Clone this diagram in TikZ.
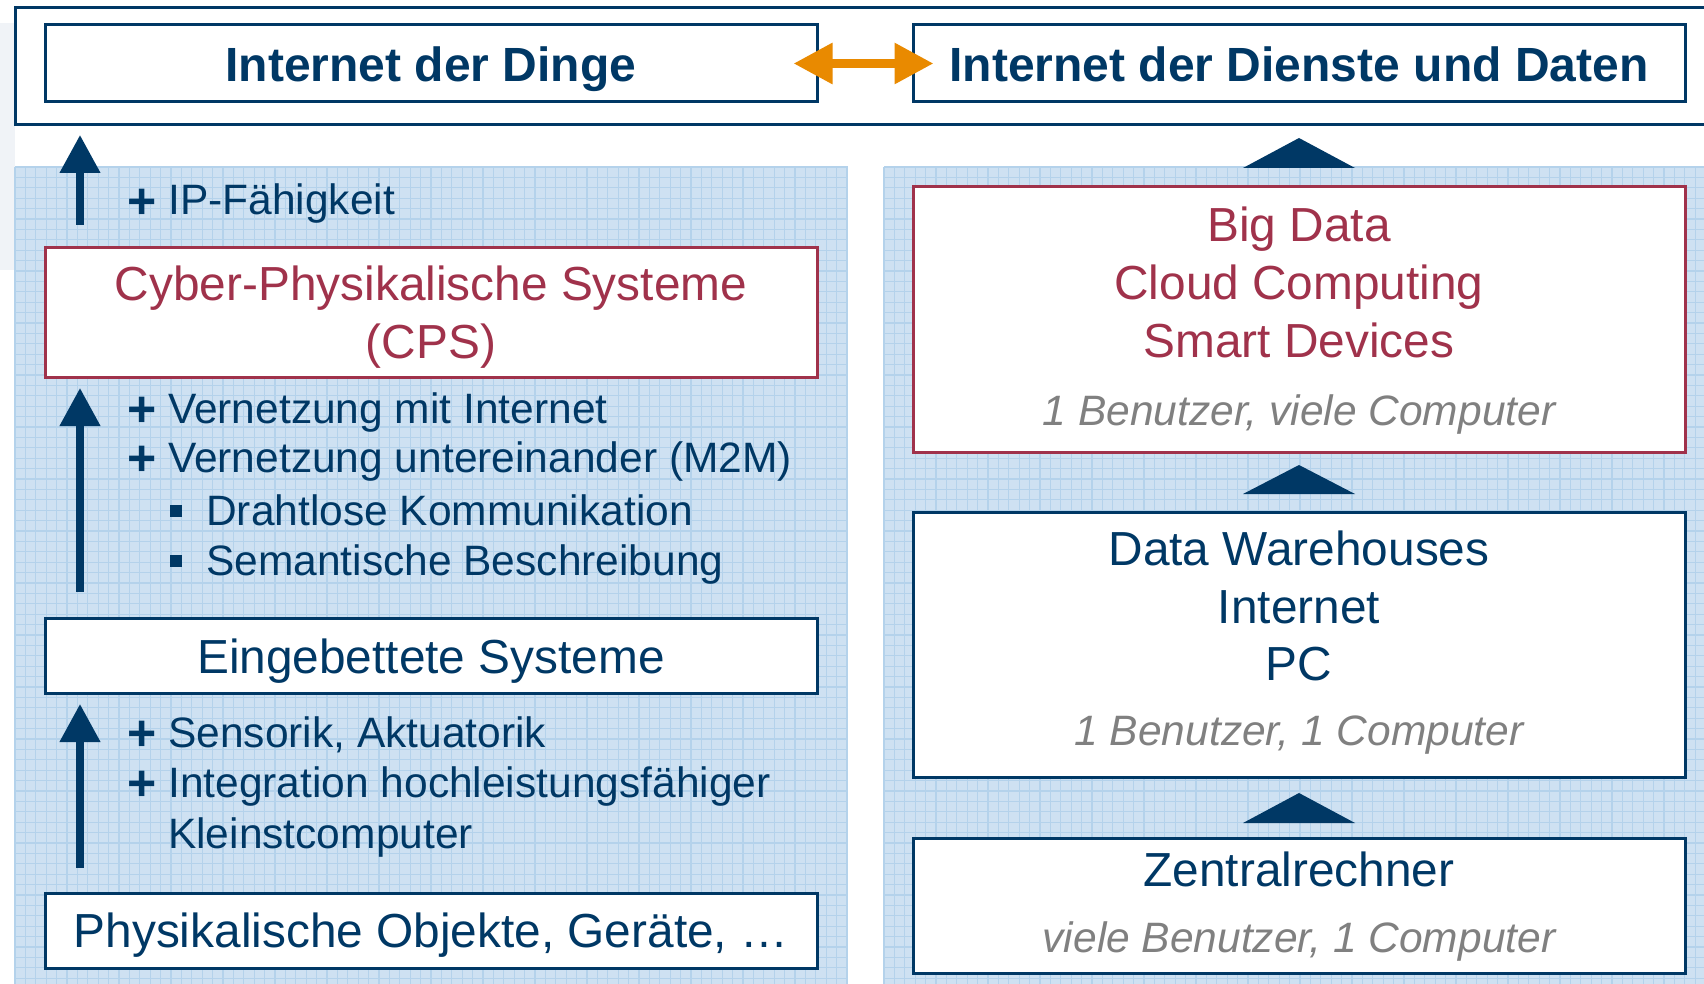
\documentclass[tikz,border=0pt]{standalone}
\usepackage{fontspec}
\setmainfont{Liberation Sans}
\usetikzlibrary{arrows.meta,calc}
\definecolor{dkblue}{RGB}{0,56,101}
\definecolor{cpsred}{RGB}{160,50,75}
\definecolor{txtgray}{RGB}{128,128,128}
\definecolor{orng}{RGB}{233,138,0}
\definecolor{patbg}{RGB}{206,225,242}
\definecolor{patln}{RGB}{180,210,235}
\definecolor{stripgray}{RGB}{240,243,247}
\newcommand\fsBig{\fontsize{47.8}{57}\selectfont}
\newcommand\fsMid{\fontsize{42.5}{50}\selectfont}
\newcommand\fsTitle{\fontsize{48}{57}\selectfont\bfseries}
\newcommand\fsPlus{\fontsize{50}{54}\selectfont\bfseries}
\begin{document}
\begin{tikzpicture}[x=1pt,y=-1pt,
  box/.style={draw=dkblue, fill=white, line width=3pt, inner sep=0pt, minimum width=772pt},
  redbox/.style={box, draw=cpsred},
  title/.style={font=\fsTitle, text=dkblue, inner sep=0pt, anchor=base},
  big/.style={font=\fsBig, text=dkblue, inner sep=0pt, anchor=base},
  bigred/.style={big, text=cpsred},
  subline/.style={font=\fsMid\itshape, text=txtgray, inner sep=0pt, anchor=base},
  item/.style={font=\fsMid, text=dkblue, inner sep=0pt, anchor=base west},
  plusmark/.style={font=\fsPlus, text=dkblue, inner sep=0pt},
  sqmark/.style={fill=dkblue, inner sep=0pt, minimum size=12pt},
  uparrow/.style={draw=dkblue, line width=7.5pt, -{Triangle[width=39pt,length=38pt]}},
  dblarrow/.style={draw=orng, line width=9pt, {Triangle[width=39pt,length=39pt]}-{Triangle[width=39pt,length=39pt]}},
  tri/.style={fill=dkblue}
]
\useasboundingbox (0,0) rectangle (1704,984);
\clip (0,0) rectangle (1704,984);
% light strip at the left
\fill[stripgray] (0,23) rectangle (15,270);
% patterned panels
\fill[patbg] (15,167) rectangle (848,984);
\fill[patbg] (884,167) rectangle (1704,984);
\foreach \i in {0,...,80} {\draw[patln, line width=1.1pt] ({15+10.4*\i},167) -- ({15+10.4*\i},984);}
\foreach \i in {0,...,78} {\draw[patln, line width=1.1pt] ({884+10.4*\i},167) -- ({884+10.4*\i},984);}
\foreach \j in {0,...,78} {\draw[patln, line width=1.1pt] (15,{167+10.4*\j}) -- (848,{167+10.4*\j});
  \draw[patln, line width=1.1pt] (884,{167+10.4*\j}) -- (1704,{167+10.4*\j});}
% top frame
\draw[dkblue, line width=3pt, fill=white] (15,8) rectangle (1712,125);
% boxes
\node[box, minimum height=77pt] (boxL) at (431,63.5) {};
\node[box, minimum height=77pt] (boxR) at (1299,63.5) {};
\node[redbox, minimum height=129pt] (cps) at (431,312.5) {};
\node[box, minimum height=75pt] (emb) at (431,655.5) {};
\node[box, minimum height=75pt] (phys) at (431,930.5) {};
\node[redbox, minimum height=265pt] (bd) at (1299,319.5) {};
\node[box, minimum height=265pt] (dw) at (1299,644.5) {};
\node[box, minimum height=135pt] (zr) at (1299,905.5) {};
% orange double arrow
\draw[dblarrow] ([xshift=-25pt]boxL.east) -- ([xshift=22pt]boxR.west);
% titles
\node[title] (tL) at (431,82) {Internet der Dinge};
\node[title] (tR) at (1299,82) {Internet der Dienste und Daten};
% left up arrows
\coordinate (a1s) at (80,225); \coordinate (a1e) at (80,135);
\coordinate (a2s) at (80,592); \coordinate (a2e) at (80,388);
\coordinate (a3s) at (80,868); \coordinate (a3e) at (80,704);
\draw[uparrow] (a1s) -- (a1e);
\draw[uparrow] (a2s) -- (a2e);
\draw[uparrow] (a3s) -- (a3e);
% right triangles
\fill[tri] (1243,168) -- (1299,138) -- (1355,168) -- cycle;
\fill[tri] (1243,494) -- (1299,465) -- (1355,494) -- cycle;
\fill[tri] (1243,823) -- (1299,793) -- (1355,823) -- cycle;
% left texts
\node[plusmark] (p1) at (142,204) {+};
\node[item] (i1) at (168,215) {IP-Fähigkeit};
\node[bigred] (c1) at (431,300) {Cyber-Physikalische Systeme};
\node[bigred] (c2) at (431,358) {(CPS)};
\node[plusmark] (p2) at (142,412) {+};
\node[item] (i2) at (168,423) {Vernetzung mit Internet};
\node[plusmark] (p3) at (142,461) {+};
\node[item] (i3) at (168,472) {Vernetzung untereinander (M2M)};
\node[sqmark] (s1) at (176,511) {};
\node[item] (i4) at (206,525) {Drahtlose Kommunikation};
\node[sqmark] (s2) at (176,561) {};
\node[item] (i5) at (206,575) {Semantische Beschreibung};
\node[big] (e1) at (431,673) {Eingebettete Systeme};
\node[plusmark] (p4) at (142,736) {+};
\node[item] (i6) at (168,747) {Sensorik, Aktuatorik};
\node[plusmark] (p5) at (142,786) {+};
\node[item] (i7) at (168,797) {Integration hochleistungsfähiger};
\node[item] (i8) at (168,848) {Kleinstcomputer};
\node[big] (ph1) at (431,947) {Physikalische Objekte, Geräte, …};
% right texts
\node[bigred] (b1) at (1299,242) {Big Data};
\node[bigred] (b2) at (1299,299) {Cloud Computing};
\node[bigred] (b3) at (1299,357) {Smart Devices};
\node[subline] (b4) at (1299,425) {1 Benutzer, viele Computer};
\node[big] (d1) at (1299,565) {Data Warehouses};
\node[big] (d2) at (1299,623) {Internet};
\node[big] (d3) at (1299,680) {PC};
\node[subline] (d4) at (1299,745) {1 Benutzer, 1 Computer};
\node[big] (z1) at (1299,886) {Zentralrechner};
\node[subline] (z2) at (1299,952) {viele Benutzer, 1 Computer};
\end{tikzpicture}
\end{document}
